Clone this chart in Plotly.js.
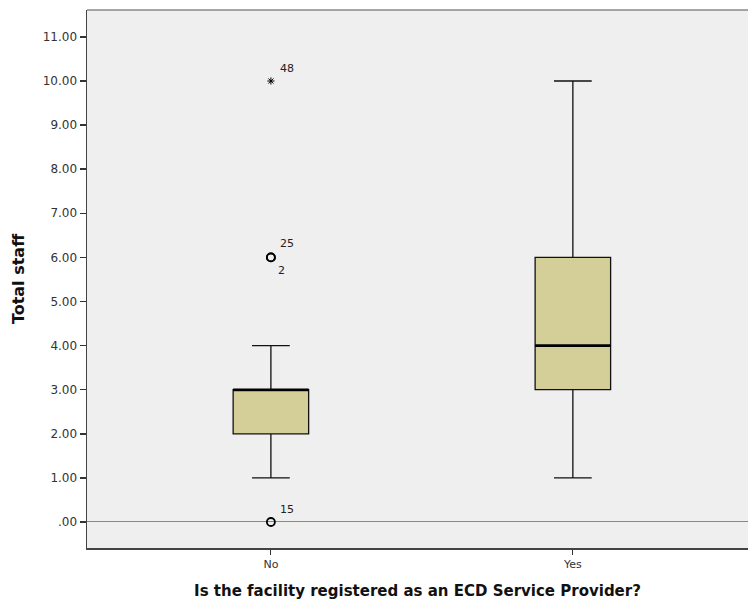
<!DOCTYPE html>
<html>
<head>
<meta charset="utf-8">
<script src="https://cdn.plot.ly/plotly-3.0.1.min.js"></script>
<style>html,body{margin:0;padding:0;background:#fff;overflow:hidden}</style>
</head>
<body>
<div id="chart" style="width:748px;height:605px"></div>
<script>
// Data
const categories = ["No", "Yes"];
const q1 = [2, 3];
const medians = [3, 4];
const q3 = [3, 6];
const lowerWhisker = [1, 1];
const upperWhisker = [4, 10];

// Outliers (circles) and extremes (stars)
const outlierCat = ["No", "No", "No"];
const outlierVal = [6, 6, 0];
const outlierIds = ["25", "2", "15"];
const extremeCat = ["No"];
const extremeVal = [10];
const extremeIds = ["48"];

const yTickVals = [0,1,2,3,4,5,6,7,8,9,10,11];
const yTickText = [".00","1.00","2.00","3.00","4.00","5.00","6.00","7.00","8.00","9.00","10.00","11.00"];

const catPos = categories.map((c, i) => i);

const boxTrace = {
  type: "box",
  x: catPos,
  q1: q1, median: medians, q3: q3,
  lowerfence: lowerWhisker, upperfence: upperWhisker,
  fillcolor: "#d4cf99",
  line: {color: "#111", width: 1.3},
  width: 0.25,
  whiskerwidth: 0.5,
  boxpoints: false,
  hoverinfo: "skip",
  showlegend: false
};

// Thick median lines
const medianTraces = categories.map((c, i) => ({
  type: "scatter", mode: "lines",
  x: [i - 0.125, i + 0.125], y: [medians[i], medians[i]],
  line: {color: "#000", width: 2.6},
  hoverinfo: "skip", showlegend: false
}));

const outlierTrace = {
  type: "scatter", mode: "markers",
  x: outlierCat.map(c => categories.indexOf(c)), y: outlierVal,
  marker: {symbol: "circle-open", size: 8, color: "#000", line: {width: 1.8, color: "#000"}},
  hoverinfo: "skip", showlegend: false
};
const extremeTrace = {
  type: "scatter", mode: "markers",
  x: extremeCat.map(c => categories.indexOf(c)), y: extremeVal,
  marker: {symbol: "asterisk-open", size: 6, color: "#000", line: {width: 1, color: "#000"}},
  hoverinfo: "skip", showlegend: false
};

// Labels for outliers
const annotations = [];
const labelShift = {"25": [16, 14], "2": [11, -13], "15": [16, 12], "48": [16, 13]};
outlierIds.forEach((id, i) => {
  annotations.push({x: categories.indexOf(outlierCat[i]), y: outlierVal[i], xref: "x", yref: "y",
    text: id, showarrow: false, xshift: labelShift[id][0], yshift: labelShift[id][1],
    font: {family: "DejaVu Sans", size: 11, color: "#222"}});
});
extremeIds.forEach((id, i) => {
  annotations.push({x: categories.indexOf(extremeCat[i]), y: extremeVal[i], xref: "x", yref: "y",
    text: id, showarrow: false, xshift: labelShift[id][0], yshift: labelShift[id][1],
    font: {family: "DejaVu Sans", size: 11, color: "#222"}});
});

const layout = {
  width: 748, height: 605,
  margin: {l: 87, r: 0, t: 10, b: 57},
  paper_bgcolor: "#ffffff",
  plot_bgcolor: "#efefef",
  showlegend: false,
  xaxis: {
    type: "linear",
    range: [-0.609, 1.58],
    tickvals: catPos, ticktext: categories,
    ticks: "outside", ticklen: 5, tickcolor: "#333", tickwidth: 1,
    showgrid: false, zeroline: false,
    showline: true, linecolor: "#444", linewidth: 1.5,
    tickfont: {family: "DejaVu Sans", size: 11, color: "#333"},
    title: {text: "Is the facility registered as an ECD Service Provider?",
      font: {family: "DejaVu Sans", size: 15, color: "#111", weight: "bold"}, standoff: 16}
  },
  yaxis: {
    range: [-0.59, 11.61],
    tickvals: yTickVals, ticktext: yTickText,
    ticks: "outside", ticklen: 6, tickcolor: "#333", tickwidth: 1.5,
    showgrid: false,
    zeroline: true, zerolinecolor: "#888", zerolinewidth: 1,
    showline: true, linecolor: "#444", linewidth: 1.5,
    tickfont: {family: "DejaVu Sans", size: 12, color: "#333"},
    title: {text: "Total staff", font: {family: "DejaVu Sans", size: 16, color: "#111", weight: "bold"}, standoff: 14}
  },
  shapes: [
    {type: "line", xref: "paper", yref: "paper", x0: 0, x1: 1, y0: 1, y1: 1, line: {color: "#888", width: 1.5}}
  ],
  annotations: annotations
};

Plotly.newPlot("chart", [boxTrace, ...medianTraces, outlierTrace, extremeTrace], layout, {displayModeBar: false, staticPlot: true});
</script>
</body>
</html>
